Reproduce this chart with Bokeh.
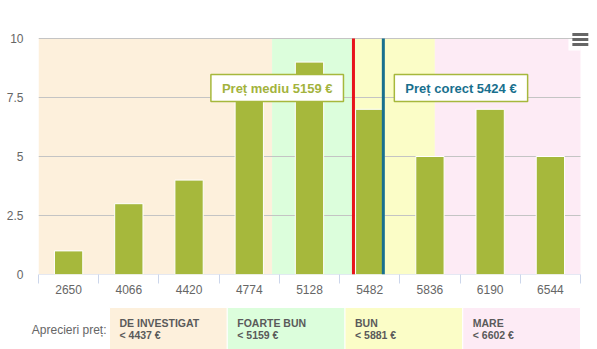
from bokeh.plotting import figure
from bokeh.models import Range1d, FixedTicker, Label
from bokeh.layouts import column
from bokeh.embed import file_html
from bokeh.resources import INLINE
from bokeh.core.properties import value

# ---------------- data ----------------
categories = ["2650", "4066", "4420", "4774", "5128", "5482", "5836", "6190", "6544"]
counts = [1, 3, 4, 8, 9, 7, 5, 7, 5]
y_ticks = [0, 2.5, 5, 7.5, 10]
y_tick_labels = ["0", "2.5", "5", "7.5", "10"]
band_names = ["DE INVESTIGAT", "FOARTE BUN", "BUN", "MARE"]
band_limits = [4437, 5159, 5881, 6602]
band_colors = ["#fdf0dc", "#dcfedc", "#fbfdc7", "#fdebf5"]
avg_price = 5159
fair_price = 5424
avg_label = "Preț mediu 5159 €"
fair_label = "Preț corect 5424 €"
legend_title = "Aprecieri preț:"

# ---------------- style / layout ----------------
FONT = "Liberation Sans"
BAR = "#a6b83c"
RED = "#e8131b"
BLUE = "#18708e"
AXIS = "#ccd6eb"
GRID = "#c4c4c4"
TXT = "#666666"
N = len(categories)
Y_MAX = 10
X_END = N + 0.133          # a little room right of the last bin for the menu button
Y_END = Y_MAX + 0.339      # a little room above 10 for the menu button
PRICE_MIN, PRICE_AXIS_END, PRICE_MAX = 2365, 7173, 7244

p = figure(width=597, height=306, x_range=Range1d(0, X_END), y_range=Range1d(0, Y_END),
           output_backend="svg", toolbar_location=None,
           min_border_left=38, min_border_right=9, min_border_top=30, min_border_bottom=32)
p.extra_x_ranges = {"price": Range1d(PRICE_MIN, PRICE_MAX)}
p.outline_line_color = None
p.background_fill_color = "white"
p.border_fill_color = "white"

# bands
band_left = [PRICE_MIN] + band_limits[:-1]
band_right = band_limits[:-1] + [PRICE_AXIS_END]
p.quad(left=band_left, right=band_right, bottom=0, top=Y_MAX, fill_color=band_colors,
       line_color=None, x_range_name="price", level="image")
# white patch under the menu button
p.quad(left=[8.8], right=[N], bottom=[9.49], top=[Y_MAX], fill_color="white", line_color=None, level="image")

# grid lines (drawn as segments so they stop at the last bin)
p.xgrid.visible = False
p.ygrid.visible = False
p.segment(x0=[0] * len(y_ticks), x1=[N] * len(y_ticks), y0=y_ticks, y1=y_ticks,
          line_color=[AXIS] + [GRID] * (len(y_ticks) - 1), line_width=1, level="underlay")

# bars
xs = [i + 0.5 for i in range(N)]
p.vbar(x=xs, top=counts, bottom=0, width=0.47, fill_color=BAR, line_color="white", line_width=1)

# price lines
p.segment(x0=[avg_price, fair_price], x1=[avg_price, fair_price], y0=[0, 0], y1=[Y_MAX, Y_MAX],
          line_color=[RED, BLUE], line_width=3, x_range_name="price")

p.add_layout(Label(x=avg_price, y=7.9, x_range_name="price", x_offset=-10, text=avg_label,
                   text_align="right", text_baseline="middle", text_font=FONT,
                   text_font_style="bold", text_font_size="13px", text_color="#a3b33d",
                   background_fill_color="white", border_line_color=BAR, border_line_width=1.5,
                   padding=dict(left=11, right=11, top=6, bottom=6)))
p.add_layout(Label(x=fair_price, y=7.9, x_range_name="price", x_offset=11, text=fair_label,
                   text_align="left", text_baseline="middle", text_font=FONT,
                   text_font_style="bold", text_font_size="13px", text_color=BLUE,
                   background_fill_color="white", border_line_color=BAR, border_line_width=1.5,
                   padding=dict(left=11, right=11, top=6, bottom=6)))

# menu icon: three small bars
for dy in (5, 0, -5):
    p.add_layout(Label(x=N, y=9.96, y_offset=dy, text=" ", text_align="center", text_baseline="middle",
                       text_font=FONT, text_font_size="1px", text_color="#666666",
                       background_fill_color="#666666",
                       padding=dict(left=8, right=8, top=1, bottom=1)))

# axes
xa = p.xaxis[0]
xa.ticker = FixedTicker(ticks=xs, minor_ticks=list(range(N + 1)))
xa.major_label_overrides = {x: c for x, c in zip(xs, categories)}
xa.major_tick_line_color = None
xa.major_tick_out = 9
xa.major_tick_in = 0
xa.minor_tick_line_color = AXIS
xa.minor_tick_out = 9
xa.minor_tick_in = 0
xa.axis_line_color = None
xa.major_label_standoff = 1
xa.major_label_text_font = FONT
xa.major_label_text_font_size = "12px"
xa.major_label_text_color = TXT

ya = p.yaxis[0]
ya.ticker = FixedTicker(ticks=y_ticks)
ya.major_label_overrides = {t: s for t, s in zip(y_ticks, y_tick_labels)}
ya.axis_line_color = None
ya.major_tick_line_color = None
ya.minor_tick_line_color = None
ya.major_tick_out = 0
ya.major_tick_in = 0
ya.major_label_standoff = 15
ya.major_label_text_font = FONT
ya.major_label_text_font_size = "12px"
ya.major_label_text_color = TXT

# ---------------- legend strip ----------------
q = figure(width=597, height=43, x_range=Range1d(0, 597), y_range=Range1d(349, 306),
           output_backend="svg", toolbar_location=None, min_border=0,
           x_axis_type=None, y_axis_type=None)
q.frame_align = False
q.grid.visible = False
q.outline_line_color = None
LEG_X0 = 109
LEG_W = (580 - 109) / len(band_names)
lefts = [LEG_X0 + i * LEG_W for i in range(len(band_names))]
rights = [l + LEG_W for l in lefts]
q.quad(left=lefts, right=rights, top=307, bottom=349, fill_color=band_colors, line_color="white", line_width=1)
q.text(x=[l + 10 for l in lefts], y=[322] * len(lefts), text=band_names, text_baseline="middle",
       text_font=value(FONT), text_font_style="bold", text_font_size="10.5px", text_color="#5a5a5a")
q.text(x=[l + 10 for l in lefts], y=[334] * len(lefts), text=["< %d €" % v for v in band_limits],
       text_baseline="middle", text_font=value(FONT), text_font_style="bold",
       text_font_size="10.5px", text_color="#5a5a5a")
q.text(x=[106], y=[329], text=[legend_title], text_align="right", text_baseline="middle",
       text_font=value(FONT), text_font_size="12px", text_color=TXT)

layout = column(p, q, spacing=0)
open("out.html", "w").write(file_html(layout, INLINE))
